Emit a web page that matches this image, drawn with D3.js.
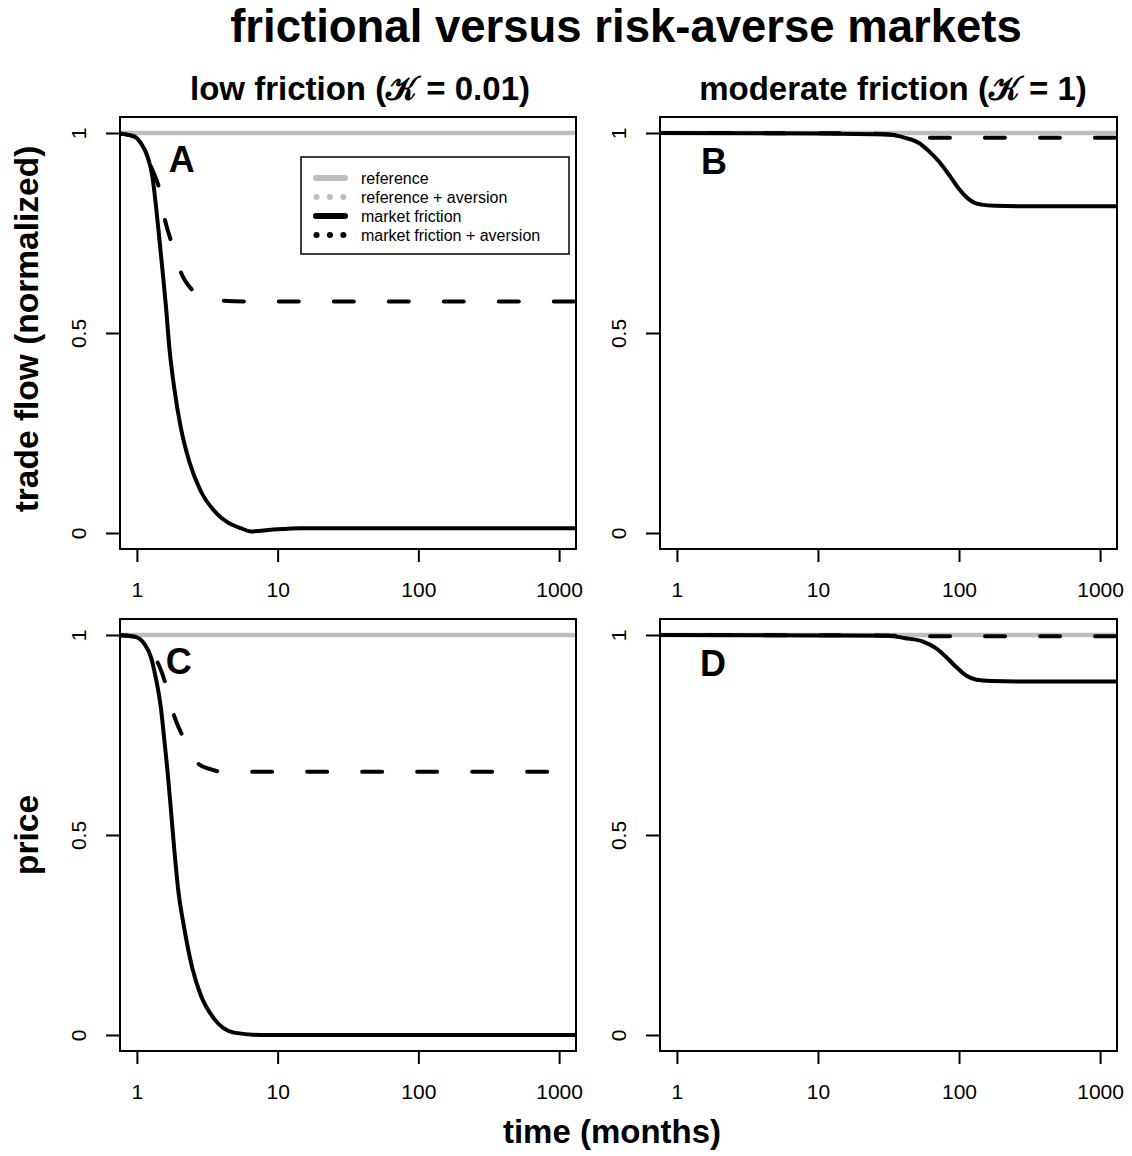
<!DOCTYPE html>
<html>
<head>
<meta charset="utf-8">
<script src="https://cdn.jsdelivr.net/npm/d3@7"></script>
<style>
  body { margin: 0; background: #fff; }
  text { font-family: "Liberation Sans", Arial, Helvetica, sans-serif; }
</style>
</head>
<body>
<div id="chart"></div>
<script>
// ---- data ----
var xTicks = [1, 10, 100, 1000];
var yTicks = [0, 0.5, 1];
var yTickLabels = ["0", "0.5", "1"];

// reference (no friction) stays at 1 everywhere
var refT = [0.7, 1400];
var refV = [1, 1];

// A: trade flow, low friction
var tA_solid = [0.7, 0.96, 1.07, 1.19, 1.29, 1.36, 1.44, 1.52, 1.61, 1.7, 1.84, 2.05, 2.35, 2.84, 3.73, 5.47, 6.5, 9, 14.5, 40, 1400];
var vA_solid = [1, 0.991, 0.974, 0.941, 0.89, 0.824, 0.74, 0.657, 0.565, 0.464, 0.364, 0.264, 0.18, 0.105, 0.047, 0.012, 0.004, 0.008, 0.012, 0.012, 0.012];
var tA_dash = [0.7, 0.96, 1.07, 1.19, 1.26, 1.44, 1.58, 1.74, 2.05, 2.48, 3.0, 4.0, 6, 1400];
var vA_dash = [1, 0.991, 0.974, 0.942, 0.916, 0.861, 0.784, 0.732, 0.652, 0.607, 0.59, 0.581, 0.579, 0.579];

// B: trade flow, moderate friction
var tB_solid = [0.7, 10, 31.5, 41.5, 52, 61.4, 72.3, 85.5, 101, 116, 128, 145, 180, 260, 1400];
var vB_solid = [1, 0.999, 0.996, 0.988, 0.975, 0.954, 0.928, 0.894, 0.858, 0.836, 0.826, 0.821, 0.818, 0.817, 0.817];
var tB_dash = [0.7, 20, 35, 50, 70, 1400];
var vB_dash = [1, 0.999, 0.995, 0.99, 0.988, 0.988];

// C: price, low friction
var tC_solid = [0.7, 0.96, 1.13, 1.26, 1.36, 1.48, 1.56, 1.65, 1.74, 1.84, 1.96, 2.17, 2.48, 2.84, 3.53, 4.9, 7.6, 1400];
var vC_solid = [1, 0.996, 0.978, 0.944, 0.894, 0.819, 0.744, 0.66, 0.568, 0.467, 0.367, 0.267, 0.166, 0.1, 0.041, 0.006, 0, 0];
var tC_dash = [0.7, 0.96, 1.13, 1.26, 1.4, 1.6, 1.84, 2.11, 2.4, 2.76, 3.3, 3.83, 5, 1400];
var vC_dash = [1, 0.996, 0.978, 0.952, 0.932, 0.878, 0.798, 0.748, 0.71, 0.677, 0.665, 0.659, 0.658, 0.658];

// D: price, moderate friction
var tD_solid = [0.7, 10, 31.5, 41.5, 55, 68.5, 81, 95.5, 113, 133, 167, 290, 1400];
var vD_solid = [1, 0.999, 0.998, 0.992, 0.984, 0.967, 0.945, 0.92, 0.898, 0.888, 0.885, 0.884, 0.884];
var tD_dash = [0.7, 20, 35, 50, 1400];
var vD_dash = [1, 0.999, 0.998, 0.997, 0.997];

var legendLabels = ["reference", "reference + aversion", "market friction", "market friction + aversion"];

function pts(t, v) { return t.map(function(d, i) { return {t: d, v: v[i]}; }); }

// ---- layout ----
var W = 1132, H = 1156;
var gray = "#bebebe";

var panels = [
  {name: "A", x0: 120, x1: 576, y0: 117, y1: 549, solid: pts(tA_solid, vA_solid), dash: pts(tA_dash, vA_dash), lt: 2.08, lv: 0.935},
  {name: "B", x0: 660, x1: 1117, y0: 117, y1: 549, solid: pts(tB_solid, vB_solid), dash: pts(tB_dash, vB_dash), lt: 1.83, lv: 0.93},
  {name: "C", x0: 120, x1: 576, y0: 619, y1: 1051, solid: pts(tC_solid, vC_solid), dash: pts(tC_dash, vC_dash), lt: 1.98, lv: 0.935},
  {name: "D", x0: 660, x1: 1117, y0: 619, y1: 1051, solid: pts(tD_solid, vD_solid), dash: pts(tD_dash, vD_dash), lt: 1.8, lv: 0.93}
];

var svg = d3.select("#chart")
  .append("svg")
    .attr("width", W)
    .attr("height", H);

panels.forEach(function(p, i) {
  // R style 4% padding on both axes
  var x = d3.scaleLog()
    .domain([Math.pow(10, -0.12), Math.pow(10, 3.12)])
    .range([p.x0, p.x1]);
  var y = d3.scaleLinear()
    .domain([-0.04, 1.04])
    .range([p.y1, p.y0]);

  svg.append("clipPath")
      .attr("id", "clip" + i)
    .append("rect")
      .attr("x", p.x0).attr("y", p.y0)
      .attr("width", p.x1 - p.x0).attr("height", p.y1 - p.y0);

  var line = d3.line()
    .x(function(d) { return x(d.t); })
    .y(function(d) { return y(d.v); })
    .curve(d3.curveMonotoneX);

  var g = svg.append("g").attr("clip-path", "url(#clip" + i + ")");

  g.append("path")
    .attr("d", line(pts(refT, refV)))
    .attr("stroke", gray)
    .attr("stroke-width", 4.5)
    .attr("fill", "none");

  g.append("path")
    .attr("d", line(p.dash))
    .attr("stroke", "black")
    .attr("stroke-width", 4)
    .attr("stroke-dasharray", "20,35")
    .attr("stroke-linecap", "round")
    .attr("fill", "none");

  g.append("path")
    .attr("d", line(p.solid))
    .attr("stroke", "black")
    .attr("stroke-width", 4)
    .attr("fill", "none");

  // panel letter
  svg.append("text")
    .attr("x", x(p.lt))
    .attr("y", y(p.lv))
    .attr("dy", "0.36em")
    .attr("text-anchor", "middle")
    .style("font-size", "36px")
    .style("font-weight", "bold")
    .text(p.name);

  // box
  svg.append("rect")
    .attr("x", p.x0).attr("y", p.y0)
    .attr("width", p.x1 - p.x0).attr("height", p.y1 - p.y0)
    .attr("fill", "none")
    .attr("stroke", "black")
    .attr("stroke-width", 2);

  // x axis
  var gx = svg.append("g")
    .attr("transform", "translate(0," + p.y1 + ")")
    .call(d3.axisBottom(x).tickValues(xTicks).tickFormat(d3.format("d")).tickSize(13));
  gx.select(".domain").remove();
  gx.selectAll(".tick line").attr("stroke-width", 2);
  gx.selectAll(".tick text")
    .attr("y", 48).attr("dy", null)
    .style("font-size", "21px")
    .attr("fill", "black");

  // y axis, labels parallel to the axis
  var gy = svg.append("g")
    .attr("transform", "translate(" + p.x0 + ",0)")
    .call(d3.axisLeft(y).tickValues(yTicks).tickFormat(function(d, k) { return yTickLabels[k]; }).tickSize(14));
  gy.select(".domain").remove();
  gy.selectAll(".tick line").attr("stroke-width", 2);
  gy.selectAll(".tick text")
    .attr("x", null).attr("dy", null)
    .attr("transform", "translate(-34,0) rotate(-90)")
    .attr("text-anchor", "middle")
    .style("font-size", "21px")
    .attr("fill", "black");
});

// ---- legend in panel A ----
var lg = svg.append("g");
lg.append("rect")
  .attr("x", 301).attr("y", 157)
  .attr("width", 268).attr("height", 97)
  .attr("fill", "white")
  .attr("stroke", "black")
  .attr("stroke-width", 1.5);

var legendStyle = [
  {color: gray, dash: null},
  {color: gray, dash: "0.1,13.3"},
  {color: "black", dash: null},
  {color: "black", dash: "0.1,13.3"}
];
legendLabels.forEach(function(lab, k) {
  var ly = 178 + k * 19;
  var s = legendStyle[k];
  lg.append("line")
    .attr("x1", s.dash ? 316.5 : 316).attr("x2", s.dash ? 344 : 345)
    .attr("y1", ly).attr("y2", ly)
    .attr("stroke", s.color)
    .attr("stroke-width", 6)
    .attr("stroke-linecap", "round")
    .attr("stroke-dasharray", s.dash);
  lg.append("text")
    .attr("x", 361).attr("y", ly)
    .attr("dy", "0.35em")
    .style("font-size", "16px")
    .text(lab);
});

// ---- titles ----
svg.append("text")
  .attr("x", 626).attr("y", 42)
  .attr("text-anchor", "middle")
  .style("font-size", "45.5px")
  .style("font-weight", "bold")
  .text("frictional versus risk-averse markets");

svg.append("text")
  .attr("x", 360).attr("y", 100)
  .attr("text-anchor", "middle")
  .style("font-size", "33px")
  .style("font-weight", "bold")
  .text("low friction (\uD835\uDCA6 = 0.01)");

svg.append("text")
  .attr("x", 893).attr("y", 100)
  .attr("text-anchor", "middle")
  .style("font-size", "33px")
  .style("font-weight", "bold")
  .text("moderate friction (\uD835\uDCA6 = 1)");

svg.append("text")
  .attr("transform", "translate(38,329) rotate(-90)")
  .attr("text-anchor", "middle")
  .style("font-size", "33.5px")
  .style("font-weight", "bold")
  .text("trade flow (normalized)");

svg.append("text")
  .attr("transform", "translate(38,835) rotate(-90)")
  .attr("text-anchor", "middle")
  .style("font-size", "33.5px")
  .style("font-weight", "bold")
  .text("price");

svg.append("text")
  .attr("x", 612).attr("y", 1143)
  .attr("text-anchor", "middle")
  .style("font-size", "33px")
  .style("font-weight", "bold")
  .text("time (months)");
</script>
</body>
</html>
